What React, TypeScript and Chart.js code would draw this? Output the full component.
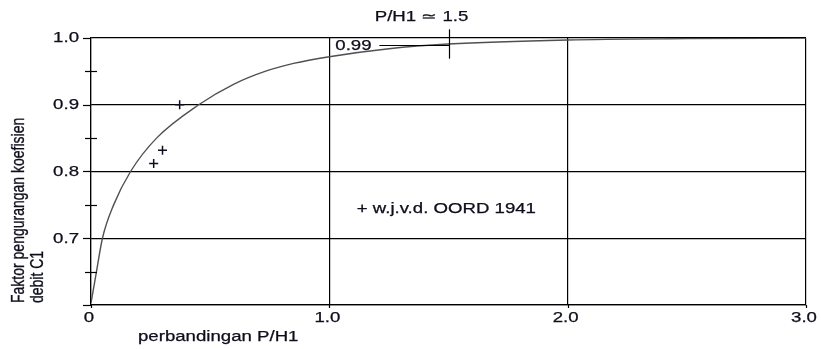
import React, { useEffect, useRef } from 'react';
import { Chart, registerables } from 'chart.js';

Chart.register(...registerables);

// ---- data ----
const curveX = [0, 0.023, 0.048, 0.095, 0.166, 0.275, 0.452, 0.6, 0.73, 0.85, 1.0, 1.25, 1.5, 2.0, 2.5, 3.0];
const curveY = [0.603, 0.65, 0.7, 0.75, 0.8, 0.85, 0.9, 0.931, 0.95, 0.962, 0.972, 0.984, 0.991, 0.997, 0.999, 1.0];
const oordX = [0.263, 0.3, 0.372];
const oordY = [0.812, 0.832, 0.9];
const xTickValues = [0, 1, 2, 3];
const xTickLabels = ['0', '1.0', '2.0', '3.0'];
const yTickValues = [0.7, 0.8, 0.9, 1.0];
const yTickLabels = ['0.7', '0.8', '0.9', '1.0'];
const yMajorMarks = [0.6, 0.7, 0.8, 0.9, 1.0];
const yMinorMarks = [0.65, 0.75, 0.85, 0.95];
const xTitle = 'perbandingan P/H1';
const yTitleLines = ['Faktor pengurangan koefisien', 'debit C1'];
const annotRatio = 1.5;
const annotValue = 0.99;
const annotLeaderStart = 1.21;
const annotTickTop = 1.013;
const annotTickBottom = 0.969;
const annotLabel = 'P/H1 \u2243 1.5';
const annotValueLabel = '0.99';
const legendLabel = '+ w.j.v.d. OORD 1941';
const legendX = 1.115;
const legendY = 0.743;

const STRETCH = 1.33;
const FONT = '14px "Liberation Sans", Arial, sans-serif';
const TEXT_COLOR = '#0e0e1c';
const LINE_COLOR = '#000';

function drawText(
  ctx: CanvasRenderingContext2D,
  text: string,
  x: number,
  y: number,
  align: CanvasTextAlign,
  baseline: CanvasTextBaseline
) {
  ctx.save();
  ctx.translate(x, y);
  ctx.scale(STRETCH, 1);
  ctx.font = FONT;
  ctx.fillStyle = TEXT_COLOR;
  ctx.strokeStyle = TEXT_COLOR;
  ctx.lineWidth = 0.25;
  ctx.textAlign = align;
  ctx.textBaseline = baseline;
  ctx.fillText(text, 0, 0);
  ctx.strokeText(text, 0, 0);
  ctx.restore();
}

const decorPlugin = {
  id: 'decor',
  afterDraw(chart: any) {
    const ctx: CanvasRenderingContext2D = chart.ctx;
    const xs = chart.scales.x;
    const ys = chart.scales.y;
    const { left, bottom, top } = chart.chartArea;

    ctx.save();
    ctx.strokeStyle = LINE_COLOR;
    ctx.lineWidth = 1.2;

    // y tick marks
    yMajorMarks.forEach((v) => {
      const y = Math.round(ys.getPixelForValue(v)) + 0.5;
      ctx.beginPath();
      ctx.moveTo(left - 8, y);
      ctx.lineTo(left, y);
      ctx.stroke();
    });
    yMinorMarks.forEach((v) => {
      const y = Math.round(ys.getPixelForValue(v)) + 0.5;
      ctx.beginPath();
      ctx.moveTo(left - 6, y);
      ctx.lineTo(left + 6, y);
      ctx.stroke();
    });
    // x tick marks
    xTickValues.forEach((v) => {
      const x = Math.round(xs.getPixelForValue(v)) + 0.5;
      ctx.beginPath();
      ctx.moveTo(x, bottom);
      ctx.lineTo(x, bottom + 3);
      ctx.stroke();
    });

    // annotation at P/H1 = 1.5
    const ax = Math.round(xs.getPixelForValue(annotRatio)) + 0.5;
    ctx.beginPath();
    ctx.moveTo(ax, ys.getPixelForValue(annotTickTop));
    ctx.lineTo(ax, ys.getPixelForValue(annotTickBottom));
    ctx.stroke();
    const ly = Math.round(ys.getPixelForValue(annotValue)) + 0.5;
    ctx.beginPath();
    ctx.moveTo(xs.getPixelForValue(annotLeaderStart), ly);
    ctx.lineTo(ax, ly);
    ctx.stroke();
    ctx.restore();

    // tick labels
    yTickValues.forEach((v, i) => {
      drawText(ctx, yTickLabels[i], left - 12, ys.getPixelForValue(v) + 0.5, 'right', 'middle');
    });
    xTickValues.forEach((v, i) => {
      drawText(ctx, xTickLabels[i], xs.getPixelForValue(v) - 2, bottom + 13, 'center', 'middle');
    });

    // axis titles
    drawText(ctx, xTitle, xs.getPixelForValue(0) + 47, bottom + 36, 'left', 'alphabetic');
    ctx.save();
    ctx.font = FONT;
    ctx.fillStyle = TEXT_COLOR;
    ctx.strokeStyle = TEXT_COLOR;
    ctx.lineWidth = 0.25;
    ctx.textAlign = 'left';
    ctx.textBaseline = 'alphabetic';
    const baseXs = [24, 43];
    yTitleLines.forEach((line, i) => {
      ctx.save();
      ctx.translate(baseXs[i], bottom - 2);
      ctx.rotate(-Math.PI / 2);
      ctx.scale(1, STRETCH);
      ctx.fillText(line, 0, 0);
      ctx.strokeText(line, 0, 0);
      ctx.restore();
    });
    ctx.restore();

    // annotation texts
    drawText(ctx, annotLabel, ax - 28, top - 21, 'center', 'middle');
    drawText(ctx, annotValueLabel, xs.getPixelForValue(1.0) + 6, ly + 0.5, 'left', 'middle');
    drawText(ctx, legendLabel, xs.getPixelForValue(legendX), ys.getPixelForValue(legendY), 'left', 'middle');
  },
};

export default function App() {
  const canvasRef = useRef<HTMLCanvasElement | null>(null);

  useEffect(() => {
    if (!canvasRef.current) return;
    const isMajor = (v: number) => Math.abs(v * 10 - Math.round(v * 10)) < 1e-6;
    const chart = new Chart(canvasRef.current, {
      type: 'scatter',
      data: {
        datasets: [
          {
            type: 'line',
            label: 'C1',
            data: curveX.map((x, i) => ({ x, y: curveY[i] })),
            borderColor: '#505050',
            borderWidth: 1.4,
            pointRadius: 0,
            fill: false,
            cubicInterpolationMode: 'monotone',
          } as any,
          {
            type: 'scatter',
            label: 'w.j.v.d. OORD 1941',
            data: oordX.map((x, i) => ({ x, y: oordY[i] })),
            pointStyle: 'cross',
            pointRadius: 4.5,
            pointBorderWidth: 1.5,
            borderColor: '#0e0e1c',
            backgroundColor: '#0e0e1c',
          } as any,
        ],
      },
      options: {
        responsive: false,
        animation: false,
        devicePixelRatio: 1,
        layout: { autoPadding: false, padding: { left: 91, right: 15, top: 38, bottom: 44 } },
        plugins: { legend: { display: false }, tooltip: { enabled: false } },
        scales: {
          x: {
            type: 'linear',
            min: 0,
            max: 3,
            ticks: { display: false, stepSize: 1 },
            grid: { color: LINE_COLOR, lineWidth: 1.2, drawTicks: false },
            border: { display: true, color: LINE_COLOR, width: 1.2 },
          },
          y: {
            type: 'linear',
            min: 0.6,
            max: 1.0,
            ticks: { display: false, stepSize: 0.05 },
            grid: {
              color: (c: any) => (isMajor(c.tick ? c.tick.value : 0) ? LINE_COLOR : 'rgba(0,0,0,0)'),
              lineWidth: 1.2,
              drawTicks: false,
            },
            border: { display: true, color: LINE_COLOR, width: 1.2 },
          },
        },
      },
      plugins: [decorPlugin],
    });
    return () => chart.destroy();
  }, []);

  return (
    <div style={{ position: 'absolute', left: 0, top: 0, width: 821, height: 349, background: '#fff' }}>
      <canvas ref={canvasRef} width={821} height={349} style={{ display: 'block' }} />
    </div>
  );
}
